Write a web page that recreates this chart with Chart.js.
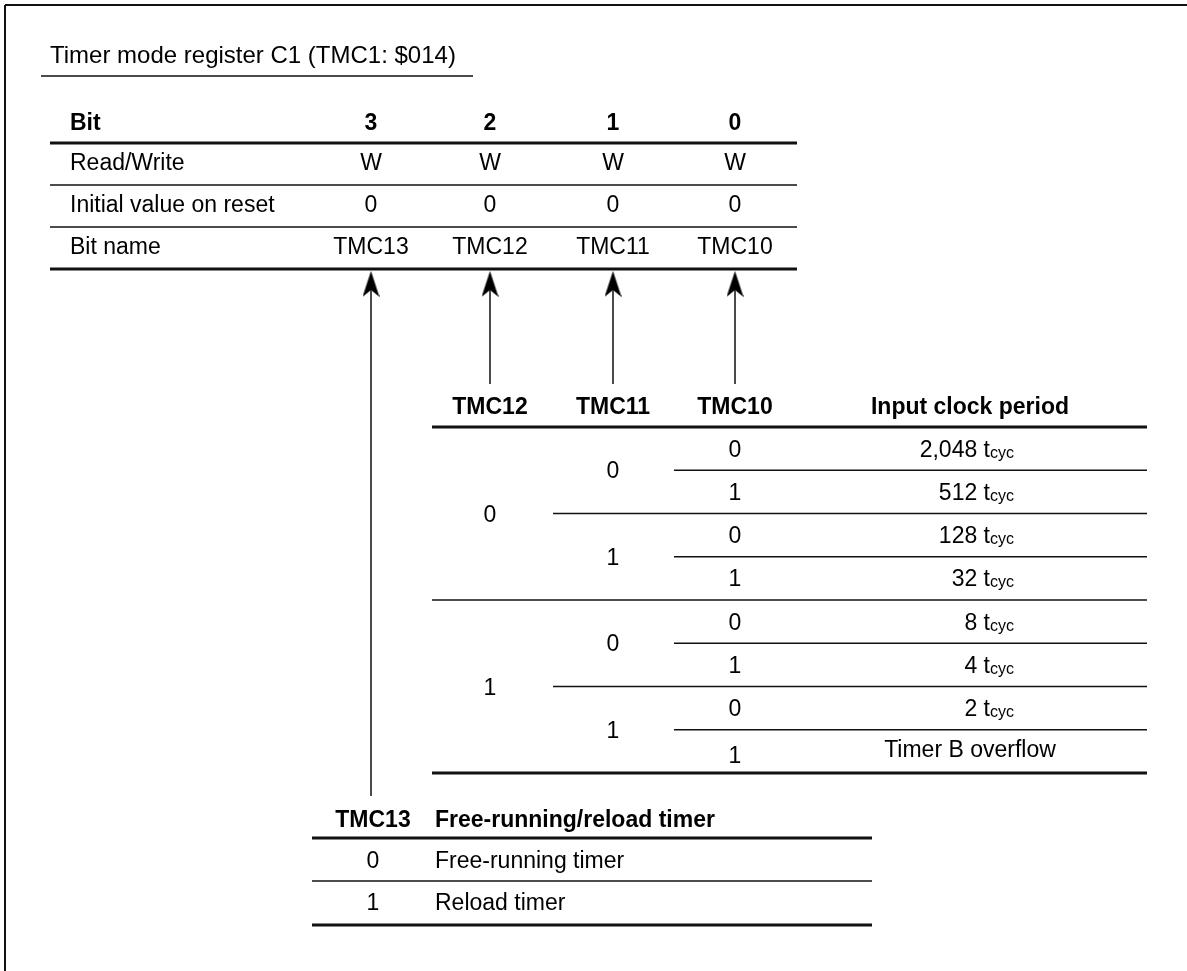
<!DOCTYPE html>
<html><head><meta charset="utf-8">
<script src="https://cdn.jsdelivr.net/npm/chart.js@4"></script>
<style>html,body{margin:0;padding:0;background:#fff;overflow:hidden}canvas{display:block}</style>
</head><body>
<canvas id="c" width="1187" height="971"></canvas>
<script>
// ---- content ----
const titleText = 'Timer mode register C1 (TMC1: $014)';
const headerLabel = 'Bit';
const bitNumbers = ['3', '2', '1', '0'];
const rowLabels = ['Read/Write', 'Initial value on reset', 'Bit name'];
const readWrite = ['W', 'W', 'W', 'W'];
const initialValues = ['0', '0', '0', '0'];
const bitNames = ['TMC13', 'TMC12', 'TMC11', 'TMC10'];
const clockHeaders = ['TMC12', 'TMC11', 'TMC10', 'Input clock period'];
const clockTMC12 = ['0', '1'];
const clockTMC11 = ['0', '1', '0', '1'];
const clockTMC10 = ['0', '1', '0', '1', '0', '1', '0', '1'];
const clockPeriodValues = ['2,048', '512', '128', '32', '8', '4', '2', 'Timer B overflow'];
const clockPeriodUnits = ['tcyc', 'tcyc', 'tcyc', 'tcyc', 'tcyc', 'tcyc', 'tcyc', ''];
const modeHeaders = ['TMC13', 'Free-running/reload timer'];
const modeValues = ['0', '1'];
const modeNames = ['Free-running timer', 'Reload timer'];

// ---- layout (pixels == data units on hidden linear scales) ----
const W = 1187, H = 971;
const FONT = '"Liberation Sans", Arial, Helvetica, sans-serif';
const L = {
  title: { x: 50, base: 63, size: 24, rule: { x1: 41, x2: 473, y: 76 } },
  t1: { labelX: 70, colX: [371, 490, 613, 735], headBase: 130, rowBase: [170, 212, 254],
        lines: [[143, 3], [185, 1.5], [227, 1.5], [269, 3]], x1: 50, x2: 797 },
  arrows: { tipY: 271, headLen: 26, endY: [796, 384, 384, 384] },
  t2: { colX: [490, 613, 735, 970], headBase: 414, top: 427, rowH: 43.25,
        x1: 432, x2: 1147, xMid: 553, xInner: 674, unitRight: 1014 },
  t3: { colX: 373, textX: 435, headBase: 827, rowBase: [868, 910],
        lines: [[838, 3], [881, 1.5], [925, 3]], x1: 312, x2: 872 },
  size: 23, sub: 16
};

// ---- segments ----
const segs = [];
function seg(x1, y1, x2, y2, w) { segs.push({ x1, y1, x2, y2, w }); }
seg(5, 5, W, 5, 2); seg(5, 5, 5, H, 2);
seg(L.title.rule.x1, L.title.rule.y, L.title.rule.x2, L.title.rule.y, 1.5);
L.t1.lines.forEach(([y, w]) => seg(L.t1.x1, y, L.t1.x2, y, w));
L.t1.colX.forEach((x, i) => seg(x, L.arrows.tipY + 18, x, L.arrows.endY[i], 1.5));
// clock table rules
seg(L.t2.x1, L.t2.top, L.t2.x2, L.t2.top, 3);
for (let i = 1; i <= clockTMC10.length; i++) {
  const y = L.t2.top + i * L.t2.rowH;
  let x1, w = 1.5;
  if (i === clockTMC10.length) { x1 = L.t2.x1; w = 3; }
  else if (i % 4 === 0) x1 = L.t2.x1;
  else if (i % 2 === 0) x1 = L.t2.xMid;
  else x1 = L.t2.xInner;
  seg(x1, y, L.t2.x2, y, w);
}
L.t3.lines.forEach(([y, w]) => seg(L.t3.x1, y, L.t3.x2, y, w));

const datasets = segs.map(s => ({
  data: [{ x: s.x1, y: s.y1 }, { x: s.x2, y: s.y2 }],
  showLine: true, borderColor: '#111', borderWidth: s.w, pointRadius: 0,
  borderCapStyle: 'butt', clip: false
}));

// arrowhead image as point style
const head = document.createElement('canvas');
head.width = 17; head.height = L.arrows.headLen;
(() => {
  const g = head.getContext('2d');
  g.fillStyle = '#000';
  g.beginPath();
  g.moveTo(8.5, 0); g.lineTo(17, 26); g.lineTo(8.5, 19); g.lineTo(0, 26); g.closePath();
  g.fill();
})();
datasets.push({
  data: L.t1.colX.map(x => ({ x, y: L.arrows.tipY + L.arrows.headLen / 2 })),
  showLine: false, pointStyle: head, pointRadius: 10, clip: false
});

// ---- text plugin ----
const textPlugin = {
  id: 'tableText',
  afterDatasetsDraw(chart) {
    const c = chart.ctx, xs = chart.scales.x, ys = chart.scales.y;
    const px = v => xs.getPixelForValue(v), py = v => ys.getPixelForValue(v);
    function t(str, x, y, align, bold, size) {
      c.font = (bold ? 'bold ' : '') + (size || L.size) + 'px ' + FONT;
      c.textAlign = align || 'center';
      c.textBaseline = 'alphabetic';
      c.fillStyle = '#000';
      c.fillText(str, px(x), py(y));
    }
    c.save();
    t(titleText, L.title.x, L.title.base, 'left', false, L.title.size);
    // register table
    t(headerLabel, L.t1.labelX, L.t1.headBase, 'left', true);
    bitNumbers.forEach((b, i) => t(b, L.t1.colX[i], L.t1.headBase, 'center', true));
    const rows = [readWrite, initialValues, bitNames];
    rowLabels.forEach((lab, r) => {
      t(lab, L.t1.labelX, L.t1.rowBase[r], 'left');
      rows[r].forEach((v, i) => t(v, L.t1.colX[i], L.t1.rowBase[r], 'center'));
    });
    // clock table
    clockHeaders.forEach((h, i) => t(h, L.t2.colX[i], L.t2.headBase, 'center', true));
    const rh = L.t2.rowH, top = L.t2.top, off = 8;
    clockTMC12.forEach((v, i) => t(v, L.t2.colX[0], top + (i * 4 + 2) * rh + off, 'center'));
    clockTMC11.forEach((v, i) => t(v, L.t2.colX[1], top + (i * 2 + 1) * rh + off, 'center'));
    clockTMC10.forEach((v, i) => t(v, L.t2.colX[2], top + (i + 0.5) * rh + off + (i === 7 ? 4 : 0), 'center'));
    clockPeriodValues.forEach((v, i) => {
      const y = top + (i + 0.5) * rh + off;
      const u = clockPeriodUnits[i];
      if (!u) { t(v, L.t2.colX[3], y - 2, 'center'); return; }
      const sub = u.slice(1);
      c.font = L.sub + 'px ' + FONT;
      const sw = c.measureText(sub).width;
      t(sub, L.t2.unitRight, y + 1, 'right', false, L.sub);
      t(v + ' ' + u[0], L.t2.unitRight - sw, y, 'right');
    });
    // mode table
    t(modeHeaders[0], L.t3.colX, L.t3.headBase, 'center', true);
    t(modeHeaders[1], L.t3.textX, L.t3.headBase, 'left', true);
    modeValues.forEach((v, i) => {
      t(v, L.t3.colX, L.t3.rowBase[i], 'center');
      t(modeNames[i], L.t3.textX, L.t3.rowBase[i], 'left');
    });
    c.restore();
  }
};

new Chart(document.getElementById('c'), {
  type: 'scatter',
  data: { datasets },
  options: {
    responsive: false, animation: false, devicePixelRatio: 1, events: [],
    layout: { padding: 0, autoPadding: false },
    plugins: { legend: { display: false }, tooltip: { enabled: false } },
    scales: {
      x: { type: 'linear', min: 0, max: W, display: false },
      y: { type: 'linear', min: 0, max: H, reverse: true, display: false }
    }
  },
  plugins: [textPlugin]
});
</script>
</body></html>
